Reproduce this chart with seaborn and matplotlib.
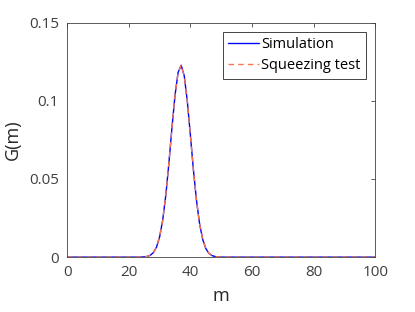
import numpy as np
import pandas as pd
import matplotlib
matplotlib.use("Agg")
import matplotlib.pyplot as plt
import seaborn as sns

# m = 0..100, G(m) (zero outside the peak)
m_values = list(range(0, 101))
peak_start = 25
peak_values = [
    0.00015, 0.00044, 0.00119, 0.00289, 0.0064, 0.0129, 0.0236, 0.0394,
    0.0598, 0.0825, 0.1035, 0.1182, 0.1228, 0.1160, 0.0997, 0.0779,
    0.0554, 0.0359, 0.0211, 0.0113, 0.0055, 0.0024, 0.00098, 0.00036,
    0.00012,
]
simulation = [0.0] * len(m_values)
for i, v in enumerate(peak_values):
    simulation[peak_start + i] = v
squeezing_test = list(simulation)

x_ticks = [0, 20, 40, 60, 80, 100]
y_ticks = [0, 0.05, 0.1, 0.15]
y_tick_labels = ["0", "0.05", "0.1", "0.15"]

df = pd.DataFrame({"m": m_values, "Simulation": simulation,
                   "Squeezing test": squeezing_test})

sns.set_style("white")
plt.rcParams["font.family"] = ["Open Sans", "DejaVu Sans"]
text_color = "#262626"
tick_color = "#404040"

fig = plt.figure(figsize=(4.15, 3.12), dpi=100)
ax = fig.add_axes([0.162, 0.176, 0.742, 0.751])

sns.lineplot(data=df, x="m", y="Simulation", ax=ax, color="#0000ff",
             linewidth=1.0, label="Simulation")
sns.lineplot(data=df, x="m", y="Squeezing test", ax=ax, color="#f5764d",
             linewidth=1.0, linestyle=(0, (4, 3)), label="Squeezing test")

ax.set_xlim(0, 100)
ax.set_ylim(0, 0.15)
ax.set_xticks(x_ticks)
ax.set_yticks(y_ticks)
ax.set_yticklabels(y_tick_labels)
ax.set_xlabel("m", fontsize=13, color=text_color, labelpad=5)
ax.set_ylabel("G(m)", fontsize=13, color=text_color, labelpad=5)
ax.tick_params(direction="in", length=3, width=0.6, colors=tick_color,
               labelsize=11, top=True, right=True, labelcolor=tick_color)
ax.tick_params(axis="x", pad=6)
ax.tick_params(axis="y", pad=6)
for s in ax.spines.values():
    s.set_color(tick_color)
    s.set_linewidth(0.6)

leg = ax.legend(loc="upper right", fontsize=10.5, frameon=True, fancybox=False,
                edgecolor="#262626", framealpha=1, handlelength=2.1,
                borderpad=0.4, labelspacing=0.4, handletextpad=0.15,
                borderaxespad=0.6)
leg.get_frame().set_linewidth(0.6)
for t in leg.get_texts():
    t.set_color("#000000")

fig.savefig("out.png", dpi=100)
